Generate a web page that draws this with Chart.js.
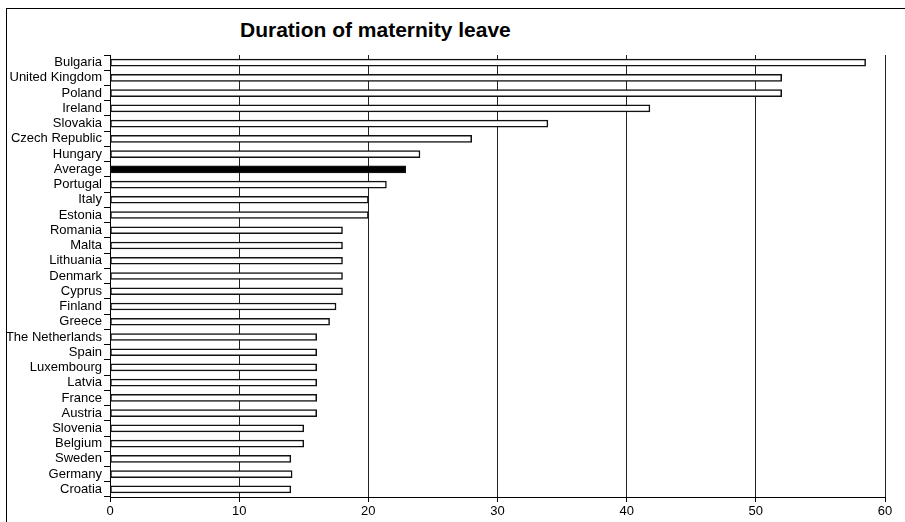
<!DOCTYPE html>
<html>
<head>
<meta charset="utf-8">
<script src="https://cdn.jsdelivr.net/npm/chart.js@4.4.1/dist/chart.umd.min.js"></script>
<style>
  html, body { margin: 0; padding: 0; background: #fff; overflow: hidden; }
  #wrap { position: relative; width: 905px; height: 522px; }
  #frame { position: absolute; left: 6px; top: 8px; width: 1000px; height: 1000px; border: 1px solid #000; }
  #title { position: absolute; left: 240px; top: 19px; font: bold 21px/21px "Liberation Sans", Arial, sans-serif; color: #000; white-space: nowrap; }
  canvas { position: absolute; left: 0; top: 0; }
</style>
</head>
<body>
<div id="wrap">
  <div id="frame"></div>
  <div id="title">Duration of maternity leave</div>
  <canvas id="chart" width="905" height="522"></canvas>
</div>
<script>
// Duration of maternity leave (weeks), sorted longest first
const countries = [
  'Bulgaria', 'United Kingdom', 'Poland', 'Ireland', 'Slovakia', 'Czech Republic',
  'Hungary', 'Average', 'Portugal', 'Italy', 'Estonia', 'Romania', 'Malta',
  'Lithuania', 'Denmark', 'Cyprus', 'Finland', 'Greece', 'The Netherlands',
  'Spain', 'Luxembourg', 'Latvia', 'France', 'Austria', 'Slovenia', 'Belgium',
  'Sweden', 'Germany', 'Croatia'
];
const weeks = [
  58.5, 52, 52, 41.8, 33.9, 28,
  24, 22.9, 21.4, 20, 20, 18, 18,
  18, 18, 18, 17.5, 17, 16,
  16, 16, 16, 16, 16, 15, 15,
  14, 14.1, 14
];
const xTicks = [0, 10, 20, 30, 40, 50, 60];
const highlight = 'Average';

const ctx = document.getElementById('chart').getContext('2d');

new Chart(ctx, {
  type: 'bar',
  data: {
    labels: countries,
    datasets: [{
      data: weeks,
      backgroundColor: countries.map(c => c === highlight ? '#000' : '#fff'),
      borderColor: '#111',
      borderWidth: 1.5,
      borderSkipped: false,
      barThickness: 7
    }]
  },
  options: {
    indexAxis: 'y',
    responsive: false,
    animation: false,
    layout: { padding: { top: 55, right: 20, bottom: 0, left: 0 } },
    plugins: {
      legend: { display: false },
      title: { display: false },
      tooltip: { enabled: false }
    },
    scales: {
      x: {
        min: 0,
        max: 60,
        z: 1,
        afterBuildTicks: scale => { scale.ticks = xTicks.map(v => ({ value: v })); },
        afterFit: scale => { scale.height = 25; },
        border: { display: true, color: '#000', width: 1 },
        grid: {
          color: '#222',
          lineWidth: 1,
          drawTicks: true,
          tickLength: 5,
          tickColor: '#000'
        },
        ticks: {
          color: '#000',
          padding: 2,
          font: { family: '"Liberation Sans", Arial, sans-serif', size: 13 }
        }
      },
      y: {
        afterFit: scale => { scale.width = 110; },
        border: { display: true, color: '#000', width: 1 },
        grid: {
          offset: true,
          drawOnChartArea: false,
          drawTicks: true,
          tickLength: 6,
          tickColor: '#000'
        },
        ticks: {
          color: '#000',
          padding: 2,
          autoSkip: false,
          font: { family: '"Liberation Sans", Arial, sans-serif', size: 13 }
        }
      }
    }
  }
});
</script>
</body>
</html>
